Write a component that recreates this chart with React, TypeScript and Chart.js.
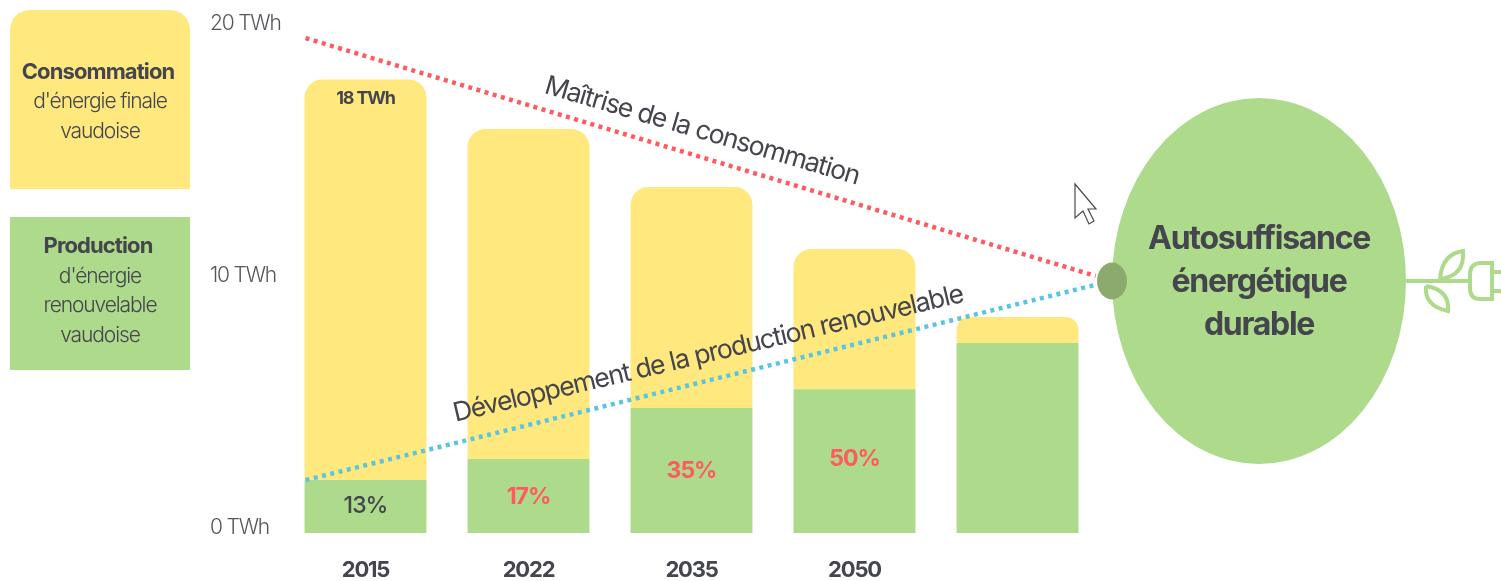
import React, { useEffect, useRef } from "react";
import { Chart, registerables } from "chart.js";

Chart.register(...registerables);

const years = ["2015", "2022", "2035", "2050", ""];
const production = [2.1, 2.94, 4.96, 5.7, 7.54];
const remainder = [15.9, 13.09, 8.77, 5.57, 1.03];
const shareLabels = ["13%", "17%", "35%", "50%", ""];
const shareColors = ["#45464d", "#ff5a5f", "#ff5a5f", "#ff5a5f", "#45464d"];
const shareLift = [0.02, -0.03, -0.02, 0.07, 0];
const yTicks = [0, 10, 20];
const masteryLine = [{ x: -0.368, y: 19.64 }, { x: 4.48, y: 10.2 }];
const growthLine = [{ x: -0.368, y: 2.1 }, { x: 4.48, y: 9.85 }];

const YELLOW = "#FFE97F";
const GREEN = "#AEDA8C";
const INK = "#45464d";
const FF = "Inter, 'Noto Sans', sans-serif";

function text(ctx: any, s: string, x: number, y: number, font: string, color: string, spacing = "0px", angle = 0) {
  ctx.save();
  ctx.translate(x, y);
  ctx.rotate(angle);
  ctx.font = font;
  ctx.fillStyle = color;
  ctx.textAlign = "center";
  ctx.textBaseline = "middle";
  ctx.letterSpacing = spacing;
  ctx.fillText(s, 0, 0);
  ctx.restore();
}

const decor = {
  id: "decor",
  beforeDraw(chart: any) {
    const ctx = chart.ctx;
    ctx.letterSpacing = "-1.2px";
    ctx.save();
    ctx.fillStyle = YELLOW;
    ctx.beginPath();
    ctx.roundRect(10, 10, 180, 179, [20, 20, 0, 0]);
    ctx.fill();
    ctx.fillStyle = GREEN;
    ctx.fillRect(10, 217, 180, 153);
    ctx.restore();
    text(ctx, "Consommation", 98, 72, `700 22px ${FF}`, INK, "-0.9px");
    text(ctx, "d'énergie finale", 100, 102, `300 21px ${FF}`, INK, "-1.1px");
    text(ctx, "vaudoise", 100, 132, `300 21px ${FF}`, INK, "-1.1px");
    text(ctx, "Production", 98, 246, `700 22px ${FF}`, INK, "-0.9px");
    text(ctx, "d'énergie", 100, 277, `300 21px ${FF}`, INK, "-1.1px");
    text(ctx, "renouvelable", 100, 306, `300 21px ${FF}`, INK, "-1.1px");
    text(ctx, "vaudoise", 100, 336, `300 21px ${FF}`, INK, "-1.1px");
  },
  afterDatasetsDraw(chart: any) {
    const ctx = chart.ctx;
    const x = chart.scales.x;
    const y = chart.scales.y;
    text(ctx, "18 TWh", x.getPixelForValue(0), y.getPixelForValue(17.25), `700 18px ${FF}`, INK, "-1.2px");
    shareLabels.forEach((s, i) => {
      if (!s) return;
      const py = y.getPixelForValue(production[i] / 2 + shareLift[i]);
      text(ctx, s, x.getPixelForValue(i), py, `${i === 0 ? 500 : 700} 23px ${FF}`, shareColors[i], "-1px");
    });
    text(ctx, "Maîtrise de la consommation", 702, 131, `400 26.5px ${FF}`, INK, "-1.25px", 0.285);
    text(ctx, "Développement de la production renouvelable", 708, 354, `400 26.5px ${FF}`, INK, "-1.25px", -0.232);
    ctx.save();
    ctx.fillStyle = GREEN;
    ctx.beginPath();
    ctx.ellipse(1259, 281, 147, 183, 0, 0, Math.PI * 2);
    ctx.fill();
    ctx.fillStyle = "#8CAA6E";
    ctx.beginPath();
    ctx.ellipse(1112, 281, 15, 18.5, 0, 0, Math.PI * 2);
    ctx.fill();
    ctx.strokeStyle = GREEN;
    ctx.lineWidth = 4;
    ctx.beginPath();
    ctx.moveTo(1406, 281);
    ctx.lineTo(1470, 281);
    ctx.stroke();
    ctx.beginPath();
    ctx.moveTo(1440, 279);
    ctx.quadraticCurveTo(1442, 254, 1463, 251);
    ctx.quadraticCurveTo(1465, 276, 1440, 279);
    ctx.stroke();
    ctx.beginPath();
    ctx.moveTo(1426, 286);
    ctx.quadraticCurveTo(1424, 306, 1448, 311);
    ctx.quadraticCurveTo(1450, 290, 1426, 286);
    ctx.stroke();
    ctx.beginPath();
    ctx.moveTo(1492, 263);
    ctx.lineTo(1480, 263);
    ctx.quadraticCurveTo(1470, 264, 1470, 274);
    ctx.lineTo(1470, 288);
    ctx.quadraticCurveTo(1470, 299, 1480, 299);
    ctx.lineTo(1492, 299);
    ctx.closePath();
    ctx.stroke();
    ctx.beginPath();
    ctx.moveTo(1492, 272);
    ctx.lineTo(1501, 272);
    ctx.moveTo(1492, 291);
    ctx.lineTo(1501, 291);
    ctx.stroke();
    ctx.fillStyle = "#ffffff";
    ctx.strokeStyle = "#4a4a52";
    ctx.lineWidth = 1.2;
    ctx.beginPath();
    ctx.moveTo(1075, 184);
    ctx.lineTo(1075, 218);
    ctx.lineTo(1083, 211);
    ctx.lineTo(1089, 224);
    ctx.lineTo(1094, 221);
    ctx.lineTo(1088, 209);
    ctx.lineTo(1096, 209);
    ctx.closePath();
    ctx.fill();
    ctx.stroke();
    ctx.restore();
    text(ctx, "Autosuffisance", 1259, 239, `700 32px ${FF}`, INK, "-1.3px");
    text(ctx, "énergétique", 1259, 282, `700 32px ${FF}`, INK, "-1.3px");
    text(ctx, "durable", 1259, 325, `700 32px ${FF}`, INK, "-1.3px");
  },
};

export default function App() {
  const ref = useRef<HTMLCanvasElement | null>(null);
  useEffect(() => {
    const dotted = { type: "line", xAxisID: "x2", yAxisID: "y2", borderWidth: 4.5, borderDash: [4, 4.5], pointRadius: 0, clip: false, tension: 0 };
    const barBase = { stack: "s", order: 1, grouped: false, barPercentage: 0.748, categoryPercentage: 1 };
    const chart = new Chart(ref.current as any, {
      type: "bar",
      plugins: [decor],
      data: {
        labels: years,
        datasets: [
          { ...dotted, label: "Maîtrise de la consommation", data: masteryLine, borderColor: "#FF5A5F", order: 0 },
          { ...dotted, label: "Développement de la production renouvelable", data: growthLine, borderColor: "#5BC5E0", order: 0 },
          { ...barBase, label: "Production", data: production, backgroundColor: GREEN },
          { ...barBase, label: "Consommation", data: remainder, backgroundColor: YELLOW, borderRadius: { topLeft: 18, topRight: 18, bottomLeft: 0, bottomRight: 0 }, borderSkipped: false },
        ] as any,
      },
      options: {
        responsive: false,
        animation: false,
        layout: { padding: { left: 210, right: 402, top: 0, bottom: 0 } },
        plugins: { legend: { display: false }, tooltip: { enabled: false } },
        scales: {
          x: {
            stacked: true,
            grid: { display: false },
            border: { display: false },
            ticks: { color: INK, font: { family: FF, weight: "700", size: 22 }, padding: 16, maxRotation: 0 },
            afterFit: (s: any) => { s.height = 48; s.paddingLeft = 0; s.paddingRight = 0; },
          },
          y: {
            stacked: true,
            min: 0,
            max: 21.15,
            grid: { display: false },
            border: { display: false },
            afterFit: (s: any) => { s.width = 74; s.paddingTop = 0; s.paddingBottom = 0; },
            afterBuildTicks: (s: any) => { s.ticks = yTicks.map((value) => ({ value })); },
            ticks: {
              color: "#55565c",
              font: { family: FF, weight: "300", size: 21 },
              crossAlign: "far",
              labelOffset: -5,
              callback: (v: any) => `${v} TWh`,
            },
          },
          x2: { type: "linear", display: false, offset: false, min: -0.5, max: 4.5, grid: { offset: false } },
          y2: { type: "linear", display: false, min: 0, max: 21.15 },
        },
      } as any,
    });
    return () => chart.destroy();
  }, []);
  return <canvas ref={ref} width={1501} height={581} style={{ position: "fixed", left: 0, top: 0, display: "block" }} />;
}
